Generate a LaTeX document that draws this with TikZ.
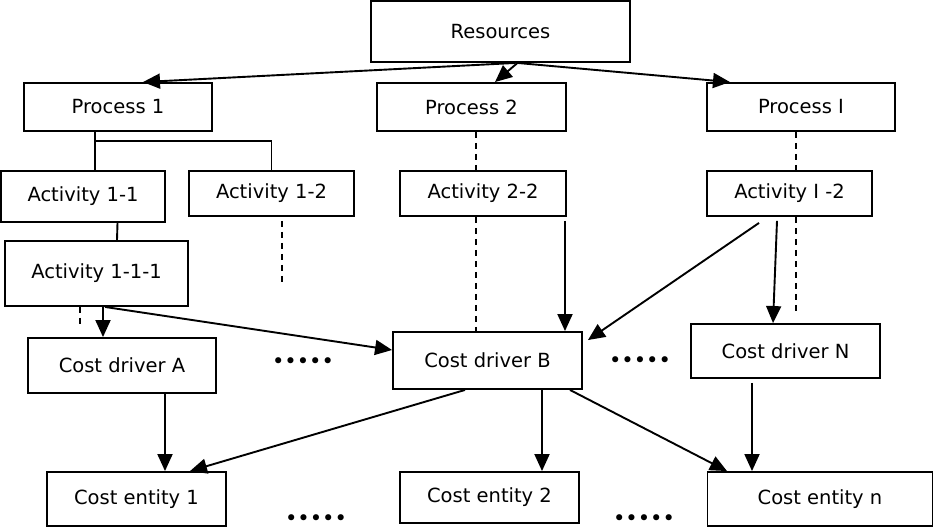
\documentclass[tikz,border=0pt]{standalone}
\usepackage{fontspec}
\setmainfont{DejaVu Sans}
\usetikzlibrary{arrows.meta}
\begin{document}
\begin{tikzpicture}[x=1pt,y=-1pt,
  box/.style={draw,line width=1.9pt,inner sep=0pt,font=\fontsize{19.5}{22}\selectfont},
  arr/.style={line width=1.9pt,-{Triangle[length=17pt,width=15pt]}},
  ln/.style={line width=1.9pt},
  dsh/.style={line width=1.7pt,dash pattern=on 6pt off 5pt},
  dots/.style={inner sep=0pt,font=\fontsize{21}{22}\selectfont}]
\useasboundingbox (0,0) rectangle (934,530);
% boxes
\node[box,minimum width=259pt,minimum height=61pt] (res) at (500.5,31.5) {Resources};
\node[box,minimum width=188pt,minimum height=48pt] (p1) at (118,107) {Process 1};
\node[box,minimum width=189pt,minimum height=48pt] (p2) at (471.5,107) {Process 2};
\node[box,minimum width=188pt,minimum height=48pt] (pI) at (801,107) {Process I};
\node[box,minimum width=164pt,minimum height=51pt] (a11) at (83,196.5) {Activity 1-1};
\node[box,minimum width=165pt,minimum height=45pt] (a12) at (271.5,193.5) {Activity 1-2};
\node[box,minimum width=166pt,minimum height=45pt] (a22) at (483,193.5) {Activity 2-2};
\node[box,minimum width=165pt,minimum height=45pt] (aI2) at (789.5,193.5) {Activity I -2};
\node[box,minimum width=183pt,minimum height=65pt] (a111) at (96.5,273.5) {Activity 1-1-1};
\node[box,minimum width=188pt,minimum height=55pt] (cdA) at (122,365.5) {Cost driver A};
\node[box,minimum width=189pt,minimum height=57pt] (cdB) at (487.5,360.5) {Cost driver B};
\node[box,minimum width=189pt,minimum height=54pt] (cdN) at (785.5,351) {Cost driver N};
\node[box,minimum width=179pt,minimum height=54pt] (ce1) at (136.5,499) {Cost entity 1};
\node[box,minimum width=179pt,minimum height=51pt] (ce2) at (489.5,497.5) {Cost entity 2};
\node[box,minimum width=225pt,minimum height=54pt] (cen) at (820,499) {Cost entity n};
% dots
\node[dots] (dt1) at (303,363) {•••••};
\node[dots] (dt2) at (640,362) {•••••};
\node[dots] (dt3) at (316,520) {•••••};
\node[dots] (dt4) at (644,520) {•••••};
% resources arrows
\draw[arr] ([xshift=15pt]res.south) -- ([xshift=25pt]p1.north);
\draw[arr] ([xshift=17pt]res.south) -- ([xshift=23.5pt]p2.north);
\draw[arr] ([xshift=17pt]res.south) -- ([xshift=-71pt]pI.north);
% process 1 tree
\coordinate (j) at (95,141);
\draw[ln] ([xshift=-23pt]p1.south) -- (j) -- (j -| a12.north) -- (a12.north);
\draw[ln] (j) -- (j |- a11.north);
\draw[ln] ([xshift=34.5pt]a11.south) -- ([xshift=20.5pt]a111.north);
% dashed lines
\coordinate (d12) at (282,282);
\draw[dsh] ([xshift=10.5pt,yshift=-4pt]a12.south) -- (d12);
\coordinate (d111) at (80,327);
\draw[dsh] ([xshift=-16.5pt]a111.south) -- (d111);
\draw[dsh] ([xshift=4.5pt]p2.south) -- ([xshift=-7pt]a22.north);
\draw[dsh] ([xshift=-7pt]a22.south) -- ([xshift=-11.5pt]cdB.north);
\draw[dsh] ([xshift=-5pt]pI.south) -- ([xshift=6.5pt]aI2.north);
\coordinate (dI) at (796,315);
\draw[dsh] ([xshift=6.5pt]aI2.south) -- (dI);
% activity arrows
\draw[arr] ([xshift=6.5pt]a111.south) -- ([xshift=-19pt]cdA.north);
\draw[arr] ([xshift=8.5pt]a111.south) -- ([yshift=10.5pt]cdB.west);
\draw[arr] ([xshift=82pt,yshift=-4pt]a22.south) -- ([xshift=77.5pt]cdB.north);
\draw[arr] ([xshift=-30.5pt,yshift=-6pt]aI2.south) -- ([xshift=5pt,yshift=-9pt]cdB.north east);
\draw[arr] ([xshift=-12.5pt,yshift=-4pt]aI2.south) -- ([xshift=-12.5pt]cdN.north);
% cost driver arrows
\draw[arr] ([xshift=43pt]cdA.south) -- ([xshift=28.5pt]ce1.north);
\draw[arr] ([xshift=-22.5pt]cdB.south) -- ([xshift=53.5pt]ce1.north);
\draw[arr] ([xshift=54.5pt]cdB.south) -- ([xshift=52.5pt]ce2.north);
\draw[arr] ([xshift=82.5pt]cdB.south) -- ([xshift=-93pt]cen.north);
\draw[arr] ([xshift=-33.5pt,yshift=-4pt]cdN.south) -- ([xshift=-68pt]cen.north);
\end{tikzpicture}
\end{document}
